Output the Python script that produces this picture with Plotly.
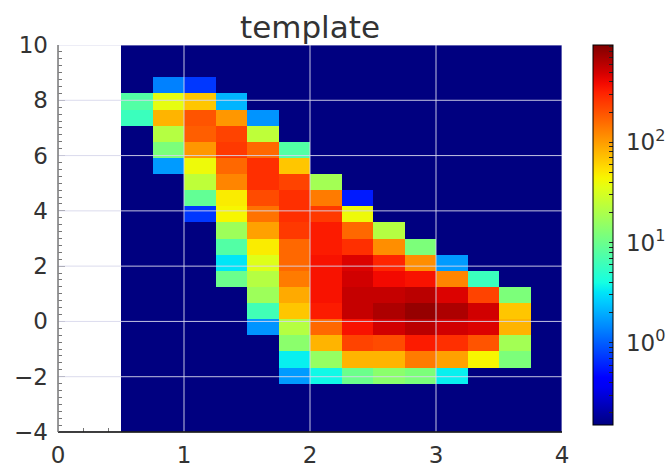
import numpy as np
import plotly.graph_objects as go

# ---- data: 2D histogram counts (rows from y=-4 upward, 14 x-bins from x=0.5 to 4) ----
x_edges = np.linspace(0.5, 4.0, 15)
y_edges = np.linspace(-4.0, 10.0, 25)

row_00 = [0, 0, 0, 0, 0, 0, 0, 0, 0, 0, 0, 0, 0, 0]
row_01 = [0, 0, 0, 0, 0, 0, 0, 0, 0, 0, 0, 0, 0, 0]
row_02 = [0, 0, 0, 0, 0, 0, 0, 0, 0, 0, 0, 0, 0, 0]
row_03 = [0, 0, 0, 0, 0, 1.7, 3.8, 10, 14, 12, 3.5, 0, 0, 0]
row_04 = [0, 0, 0, 0, 0, 3.5, 15.5, 81, 81, 137, 96, 44, 12, 0]
row_05 = [0, 0, 0, 0, 0, 14, 81, 230, 213, 330, 276, 195, 18, 0]
row_06 = [0, 0, 0, 0, 1.6, 22, 163, 358, 505, 600, 505, 465, 81, 0]
row_07 = [0, 0, 0, 0, 6.4, 68, 330, 553, 658, 785, 658, 505, 68, 0]
row_08 = [0, 0, 0, 0, 17, 89, 358, 553, 553, 600, 465, 230, 12, 0]
row_09 = [0, 0, 0, 10, 22, 137, 358, 505, 390, 358, 125, 5.9, 0, 0]
row_10 = [0, 0, 0, 3.2, 34, 163, 358, 465, 302, 115, 1.7, 0, 0, 0]
row_11 = [0, 0, 0, 7.7, 48, 163, 330, 276, 115, 12, 0, 0, 0, 0]
row_12 = [0, 0, 0, 17, 96, 253, 330, 163, 22, 0, 0, 0, 0, 0]
row_13 = [0, 0, 0.72, 44, 149, 276, 253, 40, 0, 0, 0, 0, 0, 0]
row_14 = [0, 0, 9.1, 48, 213, 276, 137, 0.56, 0, 0, 0, 0, 0, 0]
row_15 = [0, 0, 24, 125, 276, 230, 18, 0, 0, 0, 0, 0, 0, 0]
row_16 = [0, 1.7, 40, 163, 276, 68, 0, 0, 0, 0, 0, 0, 0, 0]
row_17 = [0, 12, 105, 253, 163, 7.7, 0, 0, 0, 0, 0, 0, 0, 0]
row_18 = [0, 22, 178, 230, 24, 0, 0, 0, 0, 0, 0, 0, 0, 0]
row_19 = [5.9, 81, 195, 105, 1.6, 0, 0, 0, 0, 0, 0, 0, 0, 0]
row_20 = [7.7, 37, 68, 2.1, 0, 0, 0, 0, 0, 0, 0, 0, 0, 0]
row_21 = [0, 1.35, 0.72, 0, 0, 0, 0, 0, 0, 0, 0, 0, 0, 0]
row_22 = [0, 0, 0, 0, 0, 0, 0, 0, 0, 0, 0, 0, 0, 0]
row_23 = [0, 0, 0, 0, 0, 0, 0, 0, 0, 0, 0, 0, 0, 0]

x_ticks = [0, 1, 2, 3, 4]
y_ticks = [-4, -2, 0, 2, 4, 6, 8, 10]
cbar_major = [0, 1, 2]
cbar_labels = ["\u00a010<sup>0</sup>", "\u00a010<sup>1</sup>", "\u00a010<sup>2</sup>"]
Z_MIN, Z_MAX = -0.82, 2.97

counts = np.array([row_00, row_01, row_02, row_03, row_04, row_05, row_06, row_07,
                   row_08, row_09, row_10, row_11, row_12, row_13, row_14, row_15,
                   row_16, row_17, row_18, row_19, row_20, row_21, row_22, row_23], dtype=float)
z = np.where(counts > 0, np.log10(np.where(counts > 0, counts, 1)), Z_MIN)


# matplotlib "jet" colormap
def mpl_jet(t):
    r = np.interp(t, [0, 0.35, 0.66, 0.89, 1], [0, 0, 1, 1, 0.5])
    g = np.interp(t, [0, 0.125, 0.375, 0.64, 0.91, 1], [0, 0, 1, 1, 0, 0])
    b = np.interp(t, [0, 0.11, 0.34, 0.65, 1], [0.5, 1, 1, 0, 0])
    return "rgb(%d,%d,%d)" % (round(r * 255), round(g * 255), round(b * 255))


jet = [[float(t), mpl_jet(t)] for t in np.linspace(0, 1, 41)]

# colorbar ticks: majors labelled, minors unlabelled
cb_vals, cb_text = [], []
for dec in [-1, 0, 1, 2]:
    for m in range(1, 10):
        v = float(np.log10(m * 10.0 ** dec))
        if Z_MIN <= v <= Z_MAX:
            cb_vals.append(v)
            cb_text.append(cbar_labels[cbar_major.index(dec)] if (m == 1 and dec in cbar_major) else "")

FONT = "DejaVu Sans"
TXT = "#333333"
GRID = "rgba(215,215,235,0.9)"

fig = go.Figure()
fig.add_trace(go.Heatmap(
    x=x_edges, y=y_edges, z=z,
    zmin=Z_MIN, zmax=Z_MAX,
    colorscale=jet,
    showscale=True,
    hoverinfo="skip",
    colorbar=dict(
        x=(593 - 58) / 504, xanchor="left", xpad=0,
        y=1, yanchor="top", ypad=0,
        len=380, lenmode="pixels",
        thickness=20, thicknessmode="pixels",
        outlinecolor="black", outlinewidth=1,
        tickmode="array", tickvals=cb_vals, ticktext=cb_text,
        ticks="inside", ticklen=4, tickcolor="#222",
        tickfont=dict(family=FONT, size=23, color=TXT),
    ),
))

shapes = []
for yv in y_ticks:
    shapes.append(dict(type="line", xref="paper", x0=0, x1=1, yref="y", y0=yv, y1=yv,
                       line=dict(color=GRID, width=1), layer="above"))
for xv in x_ticks:
    shapes.append(dict(type="line", xref="x", x0=xv, x1=xv, yref="paper", y0=0, y1=1,
                       line=dict(color=GRID, width=1), layer="above"))
shapes.append(dict(type="line", xref="paper", x0=0, x1=1, yref="paper", y0=0, y1=0,
                   line=dict(color="black", width=1.5), layer="above"))
shapes.append(dict(type="line", xref="paper", x0=0, x1=0, yref="paper", y0=0, y1=1,
                   line=dict(color="#777", width=1.5), layer="above"))

fig.update_layout(
    width=671, height=469,
    margin=dict(l=58, r=109, t=45, b=37, pad=0, autoexpand=False),
    paper_bgcolor="white", plot_bgcolor="white",
    title=dict(text="template", x=(58 + 562) / 2 / 671, xanchor="center",
               y=1 - 27 / 469, yanchor="middle", yref="container",
               font=dict(family=FONT, size=31, color=TXT)),
    shapes=shapes,
    font=dict(family=FONT, color=TXT),
)
fig.update_xaxes(
    range=[0, 4], tickmode="array", tickvals=x_ticks, ticktext=[str(v) for v in x_ticks],
    ticks="inside", ticklen=7, tickcolor="#777", tickwidth=1,
    showgrid=False, zeroline=False, showline=False, automargin=False,
    tickfont=dict(family=FONT, size=23, color=TXT),
    minor=dict(dtick=0.2, ticks="inside", ticklen=4, tickcolor="#777", showgrid=False),
    layer="below traces", ticklabelstandoff=7,
)
fig.update_yaxes(
    range=[-4, 10], tickmode="array", tickvals=y_ticks,
    ticktext=[str(v).replace("-", "\u2212") for v in y_ticks],
    ticks="inside", ticklen=7, tickcolor="#777", tickwidth=1,
    showgrid=False, zeroline=False, showline=False, automargin=False,
    tickfont=dict(family=FONT, size=23, color=TXT),
    minor=dict(dtick=0.25, ticks="inside", ticklen=4, tickcolor="#777", showgrid=False),
    layer="below traces", ticklabelstandoff=9,
)

fig.write_html("out.html")
